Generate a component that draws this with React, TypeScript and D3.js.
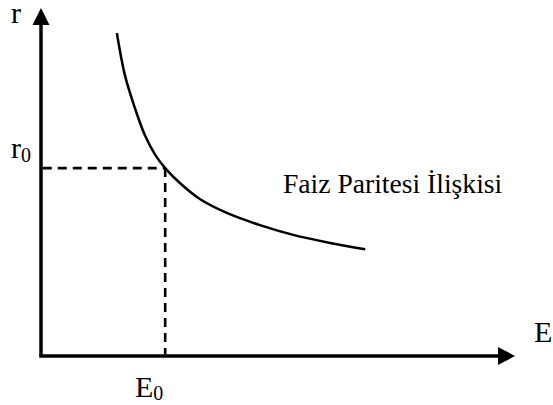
import React from "react";
import * as d3 from "d3";

const W = 553;
const H = 405;

// Curve (Faiz Paritesi İlişkisi) in data units
const curveE = [1.6, 1.77, 1.98, 2.19, 2.41, 2.62, 2.93, 3.35, 3.92, 4.62, 5.32, 6.1, 6.84];
const curveR = [9.28, 8.07, 7.13, 6.35, 5.78, 5.4, 4.97, 4.51, 4.11, 3.76, 3.48, 3.25, 3.07];
const equilibriumE = 2.62;
const equilibriumR = 5.4;
const curveLabel = "Faiz Paritesi İlişkisi";
const xAxisLabel = "E";
const yAxisLabel = "r";

export default function App() {
  const x = d3.scaleLinear().domain([0, 10]).range([41, 515]);
  const y = d3.scaleLinear().domain([0, 10]).range([356, 8]);

  const pts: [number, number][] = curveE.map((e, i) => [e, curveR[i]]);
  const line = d3
    .line<[number, number]>()
    .x((d) => x(d[0]))
    .y((d) => y(d[1]))
    .curve(d3.curveCatmullRom.alpha(0.5));

  const x0 = x(0);
  const y0 = y(0);
  const yTop = y(10);
  const xEnd = x(10);
  const font = "Liberation Serif, Times New Roman, serif";

  return (
    <div style={{ position: "absolute", left: 0, top: 0 }}>
      <svg width={W} height={H} style={{ display: "block", background: "#fff" }}>
        {/* axes */}
        <line x1={x0} y1={y0} x2={x0} y2={yTop + 15} stroke="#000" strokeWidth={3.5} />
        <line x1={x0 - 1.75} y1={y0} x2={xEnd - 15} y2={y0} stroke="#000" strokeWidth={3.5} />
        <path d={`M${x0},${yTop} L${x0 - 8.5},${yTop + 17} L${x0 + 8.5},${yTop + 17} Z`} fill="#000" />
        <path d={`M${xEnd},${y0} L${xEnd - 17},${y0 - 9} L${xEnd - 17},${y0 + 9} Z`} fill="#000" />

        {/* dashed guides */}
        <line
          x1={x0 + 1.75}
          y1={y(equilibriumR)}
          x2={x(equilibriumE)}
          y2={y(equilibriumR)}
          stroke="#000"
          strokeWidth={2.6}
          strokeDasharray="9 6"
        />
        <line
          x1={x(equilibriumE)}
          y1={y(equilibriumR)}
          x2={x(equilibriumE)}
          y2={y0 - 1.75}
          stroke="#000"
          strokeWidth={2.6}
          strokeDasharray="9 6"
        />

        {/* curve */}
        <path d={line(pts) || ""} fill="none" stroke="#000" strokeWidth={2.5} />

        {/* labels */}
        <text x={11} y={23} fontFamily={font} fontSize={30} fill="#000">
          {yAxisLabel}
        </text>
        <text x={11} y={158} fontFamily={font} fontSize={30} fill="#000">
          r<tspan fontSize={20} dy={4}>0</tspan>
        </text>
        <text x={135} y={397} fontFamily={font} fontSize={30} fill="#000">
          {xAxisLabel}
          <tspan fontSize={20} dy={3}>0</tspan>
        </text>
        <text x={534} y={342} fontFamily={font} fontSize={30} fill="#000">
          {xAxisLabel}
        </text>
        <text x={283} y={193} fontFamily={font} fontSize={27.6} fill="#000">
          {curveLabel}
        </text>
      </svg>
    </div>
  );
}
